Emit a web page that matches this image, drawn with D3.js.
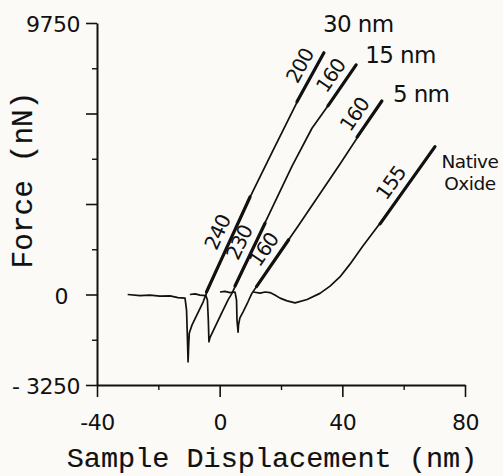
<!DOCTYPE html>
<html>
<head>
<meta charset="utf-8">
<script src="https://cdn.jsdelivr.net/npm/d3@7/dist/d3.min.js"></script>
<style>
  html, body { margin: 0; padding: 0; background: #fbfaf6; }
  svg { display: block; }
  .tick text { font-family: "DejaVu Sans", sans-serif; font-size: 22px; fill: #111; letter-spacing: -0.5px; }
  .axis path, .axis line { stroke: #111; }
</style>
</head>
<body>
<svg id="chart" width="503" height="476"></svg>
<script>
// Axis ticks
const xTicks = [-40, 0, 40, 80];
const xTickText = ["-40", "0", "40", "80"];
const xMinor = [-20, 20, 60];
const yTicks = [-3250, 0, 3250, 6500, 9750];
const yTickText = ["- 3250", "0", "", "", "9750"];
const yMinor = [-1625, 1625, 4875, 8125];

// Force curves: sample displacement (nm) vs force (nN)
const seriesNames = ["30 nm", "15 nm", "5 nm", "Native Oxide"];
const disp30  = [-30, -26, -22.7, -19.5, -16.2, -13.6, -11.3, -10.8, -10.5, -10.3, -10.1, -9.9, -9.0, -7.1, -5.4, -4.6, 2.4, 9.9, 17.4, 25.2, 34.0];
const force30 = [0, -40, -20, -60, -50, -110, -130, -560, -1630, -2420, -1810, -1380, -1090, -660, -270, -30, 1700, 3500, 5180, 6900, 8700];
const disp15  = [-9.7, -8.0, -6.4, -4.5, -4.0, -3.7, -3.5, -3.2, -1.5, 0.8, 2.7, 4.0, 13.8, 23.6, 30.1, 37.3, 44.5];
const force15 = [0, 20, -20, -40, -200, -910, -1700, -1560, -1160, -630, -200, 40, 2350, 4610, 5970, 7080, 8270];
const disp5   = [0.1, 1.7, 3.4, 5.0, 5.5, 5.65, 6.0, 6.15, 6.6, 7.6, 9.2, 10.5, 18.4, 26.2, 39.2, 52.9];
const force5  = [90, 110, 70, 90, -200, -910, -1350, -1090, -840, -630, -270, 40, 1310, 2560, 4680, 6980];
const dispOx  = [10.9, 13.2, 14.8, 16.4, 18.0, 19.7, 22.0, 24.6, 28.5, 32.7, 36.0, 39.2, 42.5, 46.7, 52.3, 70.2];
const forceOx = [90, 50, 90, 70, -20, -130, -230, -300, -180, 40, 300, 630, 1090, 1740, 2560, 5290];

// Linear fits over parts of the loading curves; slope in N/m (nN/nm)
const fitCurve = [0, 0, 1, 1, 2, 2, 3];
const fitStart = [-4.3, 25.2, 5.0, 35.3, 12.0, 44.8, 52.3];
const fitEnd   = [9.9, 34.0, 14.8, 44.5, 22.5, 52.9, 70.2];
const fitSlope = [240, 200, 230, 160, 160, 160, 155];
const fitLabelAt = [3.7, 30.4, 10.8, 40.2, 18.4, 48.0, 59.8];

const curves = [
  d3.zip(disp30, force30),
  d3.zip(disp15, force15),
  d3.zip(disp5, force5),
  d3.zip(dispOx, forceOx)
];

const svg = d3.select("#chart");
const x = d3.scaleLinear().domain([-40, 80]).range([97, 465]);
const y = d3.scaleLinear().domain([-3250, 9750]).range([385, 23]);

// Y axis
const yAxis = svg.append("g").attr("class", "axis").attr("transform", `translate(${x(-40)},0)`)
  .call(d3.axisLeft(y).tickValues(yTicks).tickSize(11).tickSizeOuter(0).tickPadding(6)
    .tickFormat((d, i) => yTickText[i]));
yAxis.select(".domain").attr("stroke-width", 2);
yAxis.selectAll(".tick line").attr("stroke-width", 1.6);
yAxis.selectAll(".tick text").attr("dy", "0.4em")
  .attr("dx", d => d === 0 ? -12 : 0);
svg.append("g").attr("class", "axis").attr("transform", `translate(${x(-40)},0)`)
  .call(d3.axisLeft(y).tickValues(yMinor).tickSize(5).tickFormat(""))
  .call(g => g.select(".domain").remove())
  .selectAll("line").attr("stroke-width", 1.4);

// X axis
const xAxis = svg.append("g").attr("class", "axis").attr("transform", `translate(0,${y(-3250)})`)
  .call(d3.axisBottom(x).tickValues(xTicks).tickSize(12).tickSizeOuter(0).tickPadding(17)
    .tickFormat((d, i) => xTickText[i]));
xAxis.select(".domain").attr("stroke-width", 2);
xAxis.selectAll(".tick line").attr("stroke-width", 1.6);
svg.append("g").attr("class", "axis").attr("transform", `translate(0,${y(-3250)})`)
  .call(d3.axisBottom(x).tickValues(xMinor).tickSize(5).tickFormat(""))
  .call(g => g.select(".domain").remove())
  .selectAll("line").attr("stroke-width", 1.4);

// Axis titles
svg.append("text")
  .attr("x", 272).attr("y", 467)
  .attr("text-anchor", "middle")
  .style("font-family", "'Liberation Mono', monospace").style("font-size", "28.5px")
  .style("fill", "#111").style("stroke", "#111").style("stroke-width", 0.15)
  .text("Sample Displacement (nm)");
svg.append("text")
  .attr("transform", "translate(32,180) rotate(-90)")
  .attr("text-anchor", "middle")
  .style("font-family", "'Liberation Mono', monospace").style("font-size", "29.5px")
  .style("fill", "#111").style("stroke", "#111").style("stroke-width", 0.15)
  .text("Force (nN)");

// Curves
const line = d3.line().x(d => x(d[0])).y(d => y(d[1]));
svg.append("g").selectAll("path").data(curves).join("path")
  .attr("d", line)
  .attr("fill", "none").attr("stroke", "#111")
  .attr("stroke-width", 1.7).attr("stroke-linejoin", "round");

// Value of a curve at displacement v
function curveAt(pts, v) {
  const i = Math.max(1, Math.min(pts.length - 1, d3.bisector(d => d[0]).left(pts, v)));
  const a = pts[i - 1], b = pts[i];
  return a[1] + (b[1] - a[1]) * (v - a[0]) / (b[0] - a[0]);
}

// Fit lines and slope labels
const fitG = svg.append("g");
fitCurve.forEach((c, i) => {
  const mid = (fitStart[i] + fitEnd[i]) / 2;
  const ym = curveAt(curves[c], mid);
  const f = v => ym + fitSlope[i] * (v - mid);
  const p0 = [x(fitStart[i]), y(f(fitStart[i]))];
  const p1 = [x(fitEnd[i]), y(f(fitEnd[i]))];
  fitG.append("line")
    .attr("x1", p0[0]).attr("y1", p0[1]).attr("x2", p1[0]).attr("y2", p1[1])
    .attr("stroke", "#111").attr("stroke-width", 3.2).attr("stroke-linecap", "round");
  const dx = p1[0] - p0[0], dy = p1[1] - p0[1];
  const len = Math.hypot(dx, dy);
  const nx = dy / len, ny = -dx / len;
  const ang = Math.atan2(dy, dx) * 180 / Math.PI;
  const off = 15;
  const lx = x(fitLabelAt[i]) + nx * off, ly = y(f(fitLabelAt[i])) + ny * off;
  fitG.append("text")
    .attr("transform", `translate(${lx},${ly}) rotate(${ang})`)
    .attr("text-anchor", "middle").attr("dominant-baseline", "central")
    .style("font-family", "'DejaVu Sans', sans-serif").style("font-size", "20px")
    .style("letter-spacing", "-1px").style("fill", "#111")
    .text(fitSlope[i]);
});

// Series labels beside the upper end of each curve
const nameOffset = [[-1, -20], [9, -1], [11, 2], [35, 21]];
curves.forEach((pts, i) => {
  const end = pts[pts.length - 1];
  const tx = x(end[0]) + nameOffset[i][0], ty = y(end[1]) + nameOffset[i][1];
  if (i < 3) {
    svg.append("text").attr("x", tx).attr("y", ty)
      .style("font-family", "'DejaVu Sans', sans-serif").style("fill", "#111")
      .style("font-size", "23px").style("letter-spacing", "-0.6px")
      .text(seriesNames[i]);
  } else {
    // two-line label, one text element per word
    seriesNames[i].split(" ").forEach((w, k) => {
      svg.append("text").attr("x", tx).attr("y", ty + k * 22)
        .attr("text-anchor", "middle")
        .style("font-family", "'DejaVu Sans', sans-serif").style("fill", "#111")
        .style("font-size", "18.5px").style("letter-spacing", "-0.5px")
        .text(w);
    });
  }
});
</script>
</body>
</html>
